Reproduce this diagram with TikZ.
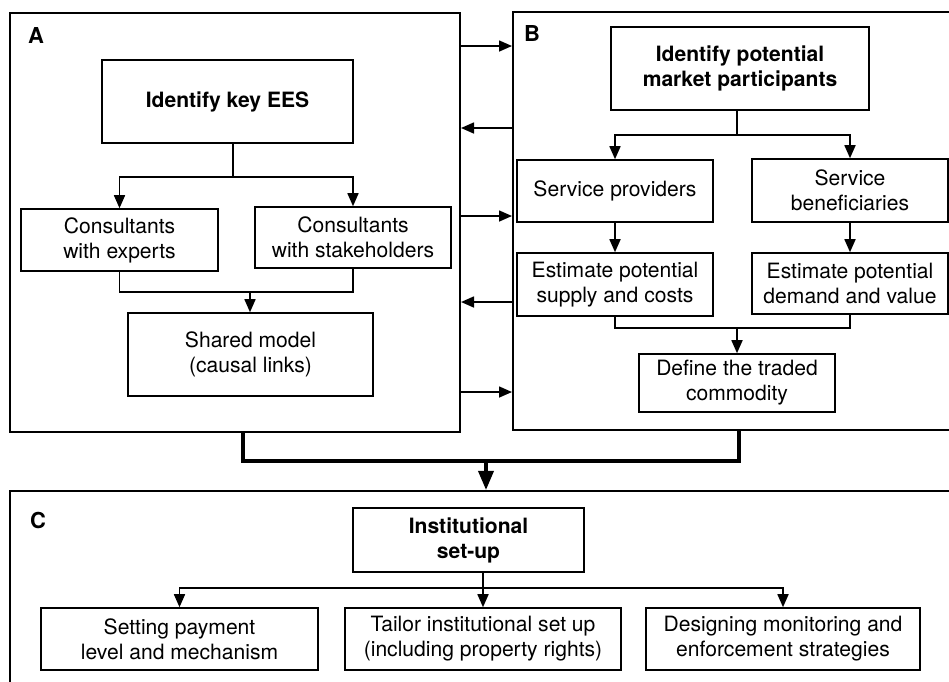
\documentclass[tikz,border=0pt]{standalone}
\usepackage{fontspec}
\setmainfont{TeX Gyre Heros}
\usetikzlibrary{arrows.meta}
\begin{document}
\begin{tikzpicture}[x=0.02cm,y=-0.02cm,
  font=\fontsize{12}{14.2}\selectfont,
  box/.style={draw, line width=0.9pt, align=center, inner sep=0pt},
  outer/.style={draw, line width=1.2pt, inner sep=0pt},
  lbl/.style={font=\fontsize{12.5}{14}\selectfont\bfseries},
  conn/.style={line width=0.9pt},
  arr/.style={line width=0.9pt, -{Triangle[length=0.26cm,width=0.22cm]}},
  bigarr/.style={line width=2pt, -{Triangle[length=0.38cm,width=0.3cm]}}]
\useasboundingbox (0,0) rectangle (949,681);
% outer boxes
\node[outer, minimum width=9cm, minimum height=8.38cm] (A) at (235,222.5) {};
\node[outer, minimum width=8.94cm, minimum height=8.36cm] (B) at (736.5,221) {};
\node[outer, minimum width=19cm, minimum height=4.18cm] (C) at (485,595.5) {};
\node[lbl] (la) at (36,35) {A};
\node[lbl] (lb) at (532,33) {B};
\node[lbl] (lc) at (38,520) {C};
% A contents
\node[box, minimum width=5.02cm, minimum height=1.66cm] (kees) at (227.5,101.5) {\bfseries Identify key EES};
\node[box, minimum width=3.94cm, minimum height=1.24cm] (cexp) at (119.5,240) {Consultants\\with experts};
\node[box, minimum width=3.92cm, minimum height=1.22cm] (cst) at (353,237.5) {Consultants\\with stakeholders};
\node[box, minimum width=4.9cm, minimum height=1.66cm] (shm) at (250.5,354.5) {Shared model\\(causal links)};
\coordinate (ja) at (233,177);
\draw[conn] (kees.south -| ja) -- (ja);
\draw[arr] (ja) -| (cexp.north);
\draw[arr] (ja) -| (cst.north);
\coordinate (jb) at (250,292);
\draw[conn] (cexp.south) |- (jb) -| (cst.south);
\draw[arr] (jb) -- (shm.north -| jb);
% B contents
\node[box, minimum width=5.16cm, minimum height=1.66cm] (ipm) at (740,68.5) {\bfseries Identify potential\\\bfseries market participants};
\node[box, minimum width=3.92cm, minimum height=1.24cm] (sp) at (615,191) {Service providers};
\node[box, minimum width=3.92cm, minimum height=1.26cm] (sb) at (850,190.5) {Service\\beneficiaries};
\node[box, minimum width=3.92cm, minimum height=1.26cm] (es) at (615,284.5) {Estimate potential\\supply and costs};
\node[box, minimum width=3.92cm, minimum height=1.22cm] (ed) at (850,283.5) {Estimate potential\\demand and value};
\node[box, minimum width=3.92cm, minimum height=1.16cm] (dtc) at (737,383) {Define the traded\\commodity};
\coordinate (jc) at (737,135);
\draw[conn] (ipm.south -| jc) -- (jc);
\draw[arr] (jc) -| (sp.north);
\draw[arr] (jc) -| (sb.north);
\draw[arr] (sp) -- (es);
\draw[arr] (sb) -- (ed);
\coordinate (jd) at (737,328);
\draw[conn] (es.south) |- (jd) -| (ed.south);
\draw[arr] (jd) -- (dtc.north);
% A <-> B arrows
\foreach \yy in {46,216,392}
  \draw[arr] (A.east |- 0,\yy) -- (B.west |- 0,\yy);
\foreach \yy in {128,302}
  \draw[arr] (B.west |- 0,\yy) -- (A.east |- 0,\yy);
% A,B -> C
\coordinate (je) at (486,461);
\draw[line width=2pt] (A.south -| 243,0) |- (je) -| (B.south -| 739,0);
\draw[bigarr] (je) -- (C.north -| je);
% C contents
\node[box, minimum width=4.62cm, minimum height=1.28cm] (inst) at (468.5,540) {\bfseries Institutional\\\bfseries set-up};
\node[box, minimum width=5.54cm, minimum height=1.24cm] (pay) at (179.5,639) {Setting payment\\level and mechanism};
\node[box, minimum width=5.52cm, minimum height=1.24cm] (tail) at (483,639) {Tailor institutional set up\\(including property rights)};
\node[box, minimum width=5.48cm, minimum height=1.24cm] (des) at (783,639) {Designing monitoring and\\enforcement strategies};
\coordinate (jf) at (483,588);
\draw[conn] (inst.south -| jf) -- (jf);
\draw[arr] (jf) -| (pay.north);
\draw[arr] (jf) -- (tail.north);
\draw[arr] (jf) -| (des.north);
\end{tikzpicture}
\end{document}
